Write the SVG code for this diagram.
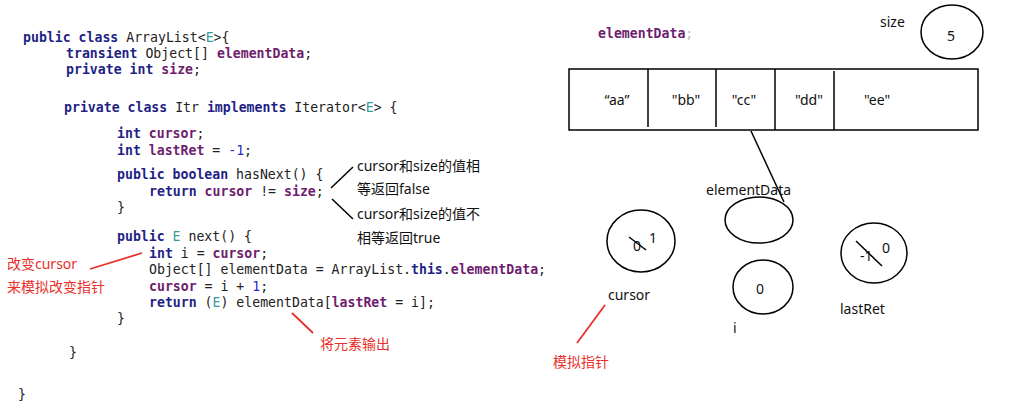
<svg xmlns="http://www.w3.org/2000/svg" width="1009" height="406" viewBox="0 0 1009 406">
<style>
.code{font-family:"DejaVu Sans Mono","Liberation Mono",monospace;font-size:13.2px;fill:#222;white-space:pre}
.k{font-weight:bold;fill:#1f1f86}
.f{font-weight:bold;fill:#6e1d6e}
.t{fill:#3a9a9a}
.n{fill:#2a2ad0}
.lbl{font-family:"Noto Sans","Noto Sans CJK SC",sans-serif;font-size:14px;fill:#111}
.red{font-family:"Noto Sans","Noto Sans CJK SC",sans-serif;font-size:14px;fill:#e8302a}
.sh{fill:none;stroke:#000;stroke-width:1.5}
.ln{stroke:#000;stroke-width:1.5;fill:none}
.rl{stroke:#e8302a;stroke-width:1.8;fill:none}
</style>
<rect width="1009" height="406" fill="#fff"/>
<g id="code" class="code" xml:space="preserve">
<text x="23" y="41.5"><tspan class="k">public class</tspan> ArrayList&lt;<tspan class="t">E</tspan>&gt;{</text>
<text x="66" y="57.5"><tspan class="k">transient</tspan> Object[] <tspan class="f">elementData</tspan>;</text>
<text x="66" y="74"><tspan class="k">private int</tspan> <tspan class="f">size</tspan>;</text>
<text x="64" y="112"><tspan class="k">private class</tspan> Itr <tspan class="k">implements</tspan> Iterator&lt;<tspan class="t">E</tspan>&gt; {</text>
<text x="117" y="138"><tspan class="k">int</tspan> <tspan class="f">cursor</tspan>;</text>
<text x="117" y="155"><tspan class="k">int</tspan> <tspan class="f">lastRet</tspan> = <tspan class="n">-1</tspan>;</text>
<text x="117" y="179"><tspan class="k">public boolean</tspan> hasNext() {</text>
<text x="149" y="196"><tspan class="k">return</tspan> <tspan class="f">cursor</tspan> != <tspan class="f">size</tspan>;</text>
<text x="117" y="212">}</text>
<text x="117" y="241"><tspan class="k">public</tspan> <tspan class="t">E</tspan> next() {</text>
<text x="149" y="258"><tspan class="k">int</tspan> i = <tspan class="f">cursor</tspan>;</text>
<text x="149" y="274">Object[] elementData = ArrayList.<tspan class="k">this</tspan>.<tspan class="f">elementData</tspan>;</text>
<text x="149" y="291"><tspan class="f">cursor</tspan> = i + <tspan class="n">1</tspan>;</text>
<text x="149" y="307"><tspan class="k">return</tspan> (<tspan class="t">E</tspan>) elementData[<tspan class="f">lastRet</tspan> = i];</text>
<text x="117" y="323">}</text>
<text x="69" y="357">}</text>
<text x="18" y="399">}</text>
</g>
<g id="note-hasnext">
<text class="lbl" x="357" y="171">cursor和size的值相</text>
<text class="lbl" x="357" y="194">等返回false</text>
<text class="lbl" x="357" y="219">cursor和size的值不</text>
<text class="lbl" x="357" y="243">相等返回true</text>
</g>
<g id="note-cursor">
<text class="red" x="7" y="269">改变cursor</text>
<text class="red" x="7" y="292">来模拟改变指针</text>
</g>
<g id="note-output">
<text class="red" x="320" y="349">将元素输出</text>
</g>
<g id="note-pointer">
<text class="red" x="553" y="367">模拟指针</text>
</g>
<g id="array-label">
<text class="code" x="598" y="38"><tspan class="f">elementData</tspan><tspan fill="#bbb">;</tspan></text>
</g>
<g id="array">
<rect class="sh" x="569" y="69" width="409" height="61"/>
<line class="ln" x1="648" y1="69" x2="648" y2="127"/>
<line class="ln" x1="716" y1="69" x2="716" y2="127"/>
<line class="ln" x1="775" y1="69" x2="775" y2="130"/>
<line class="ln" x1="834" y1="71" x2="834" y2="130"/>
<text class="lbl" x="617" y="105" text-anchor="middle">“aa”</text>
<text class="lbl" x="686" y="105" text-anchor="middle">"bb"</text>
<text class="lbl" x="744" y="105" text-anchor="middle">"cc"</text>
<text class="lbl" x="809" y="105" text-anchor="middle">"dd"</text>
<text class="lbl" x="877" y="105" text-anchor="middle">"ee"</text>
</g>
<g id="size">
<text class="lbl" x="880" y="27">size</text>
<ellipse class="sh" cx="952" cy="32" rx="31" ry="27"/>
<text class="lbl" x="947" y="41">5</text>
</g>
<g id="elementData-var">
<text class="lbl" x="706" y="195">elementData</text>
<ellipse class="sh" cx="759" cy="220" rx="34" ry="23"/>
</g>
<g id="cursor-var">
<ellipse class="sh" cx="641" cy="241" rx="34" ry="31"/>
<text class="lbl" x="633" y="251">0</text>
<text class="lbl" x="649" y="243">1</text>
<line class="ln" x1="629" y1="237" x2="646" y2="250"/>
<text class="lbl" x="608" y="300">cursor</text>
</g>
<g id="i-var">
<ellipse class="sh" cx="763" cy="287" rx="30" ry="27"/>
<text class="lbl" x="756" y="294">0</text>
<text class="lbl" x="733" y="333">i</text>
</g>
<g id="lastRet-var">
<ellipse class="sh" cx="874" cy="253" rx="33" ry="30"/>
<text class="lbl" x="860" y="261">-1</text>
<text class="lbl" x="882" y="253">0</text>
<line class="ln" x1="856" y1="241" x2="882" y2="266"/>
<text class="lbl" x="840" y="314">lastRet</text>
</g>
<g id="connectors">
<line class="ln" x1="331" y1="188" x2="353" y2="167"/>
<line class="ln" x1="332" y1="199" x2="353" y2="219"/>
<line class="rl" x1="90" y1="269" x2="142" y2="253"/>
<line class="rl" x1="292" y1="313" x2="313" y2="333"/>
<line class="rl" x1="605" y1="305" x2="577" y2="343"/>
<line class="ln" x1="751" y1="131" x2="784" y2="202"/>
</g>
</svg>
